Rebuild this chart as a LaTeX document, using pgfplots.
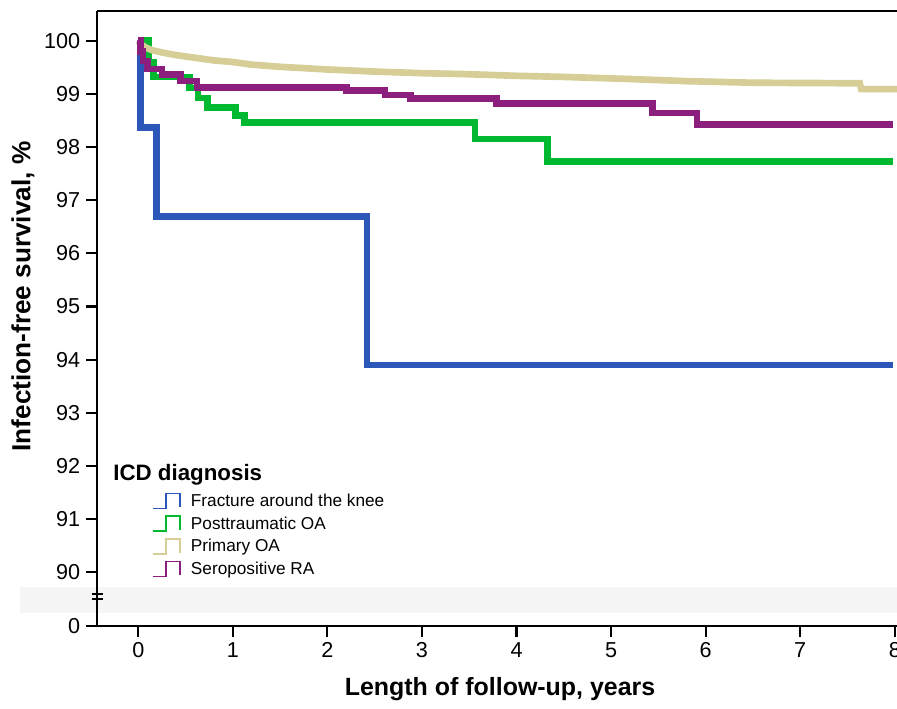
\documentclass[border=0pt]{standalone}
\usepackage{fontspec}
\setmainfont{Liberation Sans}
\usepackage{pgfplots}
\pgfplotsset{compat=1.18}
\definecolor{cblue}{HTML}{2B57B8}
\definecolor{cgreen}{HTML}{00B930}
\definecolor{cyellow}{HTML}{D6CE96}
\definecolor{cpurple}{HTML}{8C1E7D}
\begin{document}
\begin{tikzpicture}
\begin{axis}[
  name=ax, at={(0,0)}, anchor=south west,
  scale only axis, width=15.994cm, height=12.294cm,
  xmin=-0.4334, xmax=8.0233, ymin=88.995, ymax=100.56,
  axis x line*=box, axis y line*=left,
  xtick pos=left, ytick pos=left,
  axis line style={line width=1.2pt},
  tick style={line width=1.2pt, black},
  tick align=outside, major tick length=0.22cm,
  xtick={0,1,2,3,4,5,6,7,8},
  ytick={88.995,90,91,92,93,94,95,96,97,98,99,100},
  yticklabels={0,90,91,92,93,94,95,96,97,98,99,100},
  tick label style={font=\fontsize{12.3}{14}\selectfont},
  /pgf/number format/assume math mode=true,
  xlabel={Length of follow-up, years},
  ylabel={Infection-free survival, \%},
  xlabel style={at={(axis description cs:0.5036,-0.1038)}, anchor=center, inner sep=0pt, font=\bfseries\fontsize{14.2}{17}\selectfont},
  ylabel style={at={(axis description cs:-0.0929,0.5355)}, anchor=center, inner sep=0pt, font=\bfseries\fontsize{14.9}{17}\selectfont},
  axis on top,
  clip=false,
  every axis plot/.append style={line width=3.8pt, const plot},
  legend style={at={(axis description cs:0.068,0.2219)}, anchor=north west, draw=none, fill=none, inner sep=0pt, row sep=0pt, column sep=0.2cm, font=\fontsize{9.8}{11}\selectfont, nodes={inner sep=0pt, text height=9.5pt, text depth=3.4pt}},
  legend cell align=left,
  legend image code/.code={\draw[#1, line width=1.1pt, sharp plot] (0cm,-0.15cm) -- (0.26cm,-0.15cm) -- (0.26cm,0.15cm) -- (0.54cm,0.15cm) -- (0.54cm,-0.13cm);},
]
\fill[gray!8] (axis cs:-1.247,89.24) rectangle (axis cs:8.3,89.729);

\addplot[cblue] coordinates {(0,100) (0.02,98.37) (0.19,96.69) (2.42,93.90) (7.98,93.90)};
\addlegendentry{Fracture around the knee}

\addplot[cgreen] coordinates {(0,100) (0.11,99.60) (0.16,99.32) (0.54,99.11) (0.63,98.92) (0.73,98.75) (1.03,98.60) (1.12,98.46) (3.56,98.15) (4.33,97.73) (7.98,97.73)};
\addlegendentry{Posttraumatic OA}

\addplot[cyellow, sharp plot] coordinates {(0,100) (0.03,99.93) (0.08,99.87) (0.15,99.82) (0.25,99.78) (0.4,99.73) (0.6,99.68) (0.8,99.63) (1.0,99.60) (1.2,99.55) (1.5,99.51) (2.0,99.46) (2.5,99.42) (3.0,99.39) (3.5,99.37) (4.0,99.34) (4.5,99.32) (5.2,99.28) (5.8,99.24) (6.5,99.21) (7.63,99.20) (7.645,99.09) (8.05,99.09)};
\addlegendentry{Primary OA}

\addplot[cpurple] coordinates {(0,100) (0.02,99.80) (0.05,99.62) (0.10,99.47) (0.25,99.36) (0.45,99.24) (0.62,99.12) (2.20,99.06) (2.61,98.98) (2.88,98.91) (3.79,98.82) (5.44,98.64) (5.91,98.43) (7.98,98.43)};
\addlegendentry{Seropositive RA}

\draw[line width=1.2pt] ([xshift=-0.11cm]axis cs:-0.4334,89.586) -- ([xshift=0.11cm]axis cs:-0.4334,89.586);
\draw[line width=1.2pt] ([xshift=-0.11cm]axis cs:-0.4334,89.492) -- ([xshift=0.11cm]axis cs:-0.4334,89.492);
\node[anchor=base west, inner sep=0pt, font=\bfseries\fontsize{12.7}{15}\selectfont] at (axis description cs:0.0196,0.2359) {ICD diagnosis};
\end{axis}
\pgfresetboundingbox
\useasboundingbox (-1.946,-1.666) rectangle (15.994,12.514);
\end{tikzpicture}
\end{document}
